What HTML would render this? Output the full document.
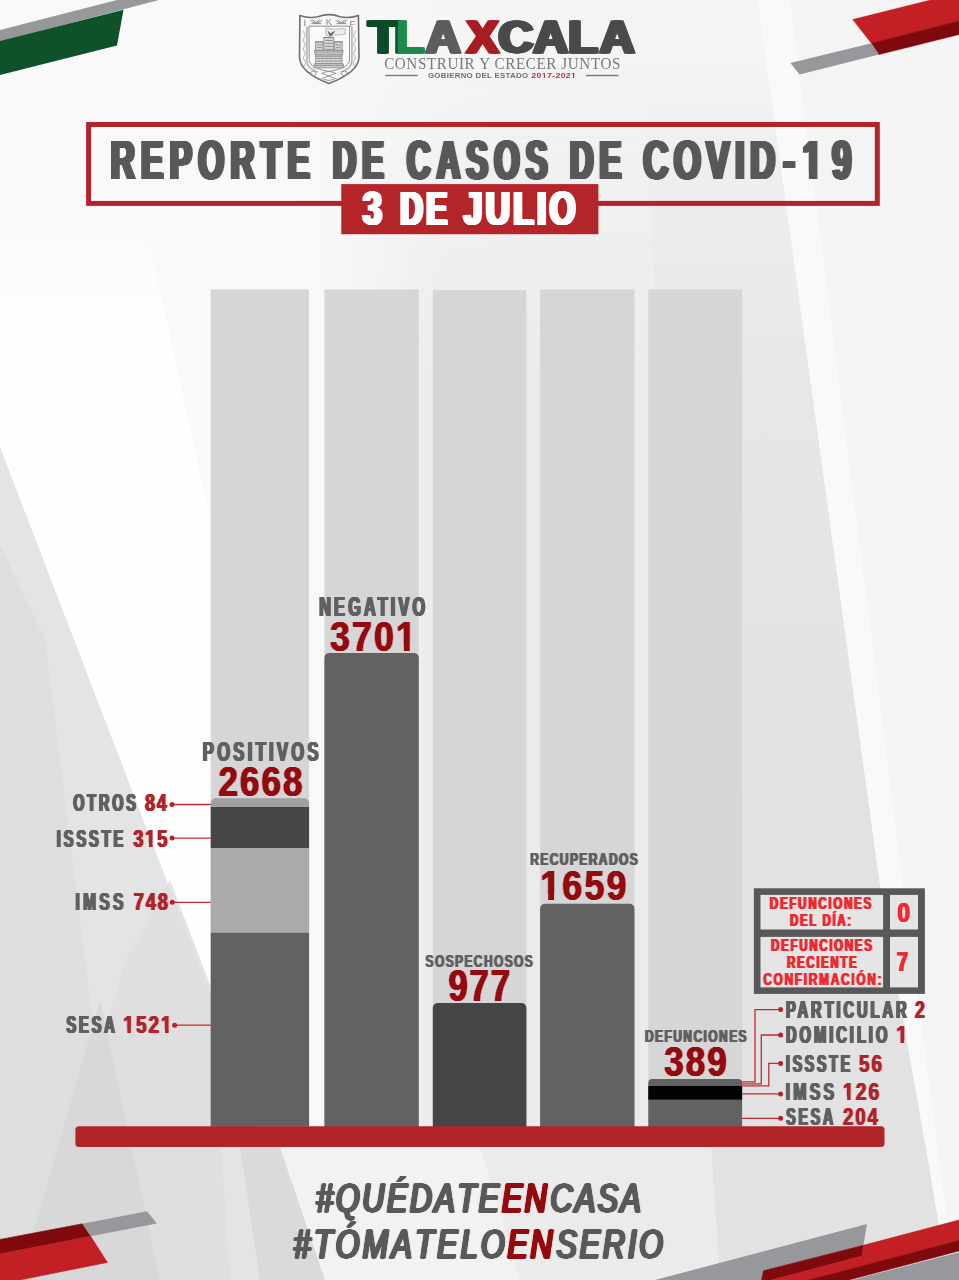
<!DOCTYPE html>
<html lang="es"><head><meta charset="utf-8"><title>Reporte de casos de COVID-19 - 3 de julio</title>
<style>html,body{margin:0;padding:0;background:#f4f4f4;}body{width:959px;height:1280px;overflow:hidden;}svg{display:block;}</style>
</head><body>
<svg width="959" height="1280" viewBox="0 0 959 1280" font-family="Liberation Sans, sans-serif" font-weight="700">
<defs>
<filter id="hb5_606062" x="-40%" y="-40%" width="180%" height="180%" color-interpolation-filters="sRGB"><feConvolveMatrix in="SourceAlpha" order="3 1" kernelMatrix="0.5 1 0.5" divisor="1" edgeMode="none" preserveAlpha="false" result="a"/><feFlood flood-color="#606062"/><feComposite operator="in" in2="a"/></filter>
<filter id="hb5_950a0e" x="-40%" y="-40%" width="180%" height="180%" color-interpolation-filters="sRGB"><feConvolveMatrix in="SourceAlpha" order="3 1" kernelMatrix="0.5 1 0.5" divisor="1" edgeMode="none" preserveAlpha="false" result="a"/><feFlood flood-color="#950a0e"/><feComposite operator="in" in2="a"/></filter>
<filter id="hb5_b1232a" x="-40%" y="-40%" width="180%" height="180%" color-interpolation-filters="sRGB"><feConvolveMatrix in="SourceAlpha" order="3 1" kernelMatrix="0.5 1 0.5" divisor="1" edgeMode="none" preserveAlpha="false" result="a"/><feFlood flood-color="#b1232a"/><feComposite operator="in" in2="a"/></filter>
<filter id="hb5_ec2a2f" x="-40%" y="-40%" width="180%" height="180%" color-interpolation-filters="sRGB"><feConvolveMatrix in="SourceAlpha" order="3 1" kernelMatrix="0.5 1 0.5" divisor="1" edgeMode="none" preserveAlpha="false" result="a"/><feFlood flood-color="#ec2a2f"/><feComposite operator="in" in2="a"/></filter>
<filter id="hb6_606062" x="-40%" y="-40%" width="180%" height="180%" color-interpolation-filters="sRGB"><feConvolveMatrix in="SourceAlpha" order="3 1" kernelMatrix="0.6 1 0.6" divisor="1" edgeMode="none" preserveAlpha="false" result="a"/><feFlood flood-color="#606062"/><feComposite operator="in" in2="a"/></filter>
<filter id="hb6_950a0e" x="-40%" y="-40%" width="180%" height="180%" color-interpolation-filters="sRGB"><feConvolveMatrix in="SourceAlpha" order="3 1" kernelMatrix="0.6 1 0.6" divisor="1" edgeMode="none" preserveAlpha="false" result="a"/><feFlood flood-color="#950a0e"/><feComposite operator="in" in2="a"/></filter>
<filter id="hb6_b1232a" x="-40%" y="-40%" width="180%" height="180%" color-interpolation-filters="sRGB"><feConvolveMatrix in="SourceAlpha" order="3 1" kernelMatrix="0.6 1 0.6" divisor="1" edgeMode="none" preserveAlpha="false" result="a"/><feFlood flood-color="#b1232a"/><feComposite operator="in" in2="a"/></filter>
<filter id="hb6_ec2a2f" x="-40%" y="-40%" width="180%" height="180%" color-interpolation-filters="sRGB"><feConvolveMatrix in="SourceAlpha" order="3 1" kernelMatrix="0.6 1 0.6" divisor="1" edgeMode="none" preserveAlpha="false" result="a"/><feFlood flood-color="#ec2a2f"/><feComposite operator="in" in2="a"/></filter>
<filter id="hb7_950a0e" x="-40%" y="-40%" width="180%" height="180%" color-interpolation-filters="sRGB"><feConvolveMatrix in="SourceAlpha" order="3 1" kernelMatrix="0.7 1 0.7" divisor="1" edgeMode="none" preserveAlpha="false" result="a"/><feFlood flood-color="#950a0e"/><feComposite operator="in" in2="a"/></filter>
<filter id="hb7_ec2a2f" x="-40%" y="-40%" width="180%" height="180%" color-interpolation-filters="sRGB"><feConvolveMatrix in="SourceAlpha" order="3 1" kernelMatrix="0.7 1 0.7" divisor="1" edgeMode="none" preserveAlpha="false" result="a"/><feFlood flood-color="#ec2a2f"/><feComposite operator="in" in2="a"/></filter>
<filter id="hb8_606062" x="-40%" y="-40%" width="180%" height="180%" color-interpolation-filters="sRGB"><feConvolveMatrix in="SourceAlpha" order="3 1" kernelMatrix="0.8 1 0.8" divisor="1" edgeMode="none" preserveAlpha="false" result="a"/><feFlood flood-color="#606062"/><feComposite operator="in" in2="a"/></filter>
<filter id="hb8_ec2a2f" x="-40%" y="-40%" width="180%" height="180%" color-interpolation-filters="sRGB"><feConvolveMatrix in="SourceAlpha" order="3 1" kernelMatrix="0.8 1 0.8" divisor="1" edgeMode="none" preserveAlpha="false" result="a"/><feFlood flood-color="#ec2a2f"/><feComposite operator="in" in2="a"/></filter>
<filter id="hb9_606062" x="-40%" y="-40%" width="180%" height="180%" color-interpolation-filters="sRGB"><feConvolveMatrix in="SourceAlpha" order="3 1" kernelMatrix="0.9 1 0.9" divisor="1" edgeMode="none" preserveAlpha="false" result="a"/><feFlood flood-color="#606062"/><feComposite operator="in" in2="a"/></filter>
<filter id="hb10_606062" x="-40%" y="-40%" width="180%" height="180%" color-interpolation-filters="sRGB"><feConvolveMatrix in="SourceAlpha" order="3 1" kernelMatrix="1 1 1" divisor="1" edgeMode="none" preserveAlpha="false" result="a"/><feFlood flood-color="#606062"/><feComposite operator="in" in2="a"/></filter>
<filter id="hb18_ffffff" x="-40%" y="-40%" width="180%" height="180%" color-interpolation-filters="sRGB"><feConvolveMatrix in="SourceAlpha" order="5 1" kernelMatrix="0.8 1 1 1 0.8" divisor="1" edgeMode="none" preserveAlpha="false" result="a"/><feFlood flood-color="#ffffff"/><feComposite operator="in" in2="a"/></filter>
<filter id="hb19_58585a" x="-40%" y="-40%" width="180%" height="180%" color-interpolation-filters="sRGB"><feConvolveMatrix in="SourceAlpha" order="5 1" kernelMatrix="0.9 1 1 1 0.9" divisor="1" edgeMode="none" preserveAlpha="false" result="a"/><feFlood flood-color="#58585a"/><feComposite operator="in" in2="a"/></filter>
<filter id="hb19_ffffff" x="-40%" y="-40%" width="180%" height="180%" color-interpolation-filters="sRGB"><feConvolveMatrix in="SourceAlpha" order="5 1" kernelMatrix="0.9 1 1 1 0.9" divisor="1" edgeMode="none" preserveAlpha="false" result="a"/><feFlood flood-color="#ffffff"/><feComposite operator="in" in2="a"/></filter>
<filter id="hb20_58585a" x="-40%" y="-40%" width="180%" height="180%" color-interpolation-filters="sRGB"><feConvolveMatrix in="SourceAlpha" order="5 1" kernelMatrix="1 1 1 1 1" divisor="1" edgeMode="none" preserveAlpha="false" result="a"/><feFlood flood-color="#58585a"/><feComposite operator="in" in2="a"/></filter>
<filter id="hb20_ffffff" x="-40%" y="-40%" width="180%" height="180%" color-interpolation-filters="sRGB"><feConvolveMatrix in="SourceAlpha" order="5 1" kernelMatrix="1 1 1 1 1" divisor="1" edgeMode="none" preserveAlpha="false" result="a"/><feFlood flood-color="#ffffff"/><feComposite operator="in" in2="a"/></filter>
<filter id="hb21_58585a" x="-40%" y="-40%" width="180%" height="180%" color-interpolation-filters="sRGB"><feConvolveMatrix in="SourceAlpha" order="7 1" kernelMatrix="0.1 1 1 1 1 1 0.1" divisor="1" edgeMode="none" preserveAlpha="false" result="a"/><feFlood flood-color="#58585a"/><feComposite operator="in" in2="a"/></filter>
<clipPath id="cp_ti5" clipPathUnits="userSpaceOnUse"><path clip-rule="evenodd" d="M-10 -10H970V1290H-10ZM801.88 172.28H808.84V180.40H801.88ZM817.45 172.28H823.97V180.40H817.45Z"/></clipPath>
<clipPath id="cp_negn" clipPathUnits="userSpaceOnUse"><path clip-rule="evenodd" d="M-10 -10H970V1290H-10ZM396.78 645.61H403.87V652.50H396.78ZM409.78 645.61H416.43V652.50H409.78Z"/></clipPath>
<clipPath id="cp_recn" clipPathUnits="userSpaceOnUse"><path clip-rule="evenodd" d="M-10 -10H970V1290H-10ZM541.03 894.31H548.14V901.20H541.03ZM554.06 894.31H560.72V901.20H554.06Z"/></clipPath>
<clipPath id="cp_l2n" clipPathUnits="userSpaceOnUse"><path clip-rule="evenodd" d="M-10 -10H970V1290H-10ZM144.77 843.05H148.90V848.00H144.77ZM152.61 843.05H156.51V848.00H152.61Z"/></clipPath>
<clipPath id="cp_l4n" clipPathUnits="userSpaceOnUse"><path clip-rule="evenodd" d="M-10 -10H970V1290H-10ZM123.02 1029.31H127.29V1034.30H123.02ZM130.92 1029.31H134.94V1034.30H130.92ZM160.76 1029.31H165.03V1034.30H160.76ZM168.67 1029.31H172.70V1034.30H168.67Z"/></clipPath>
<clipPath id="cp_r2n" clipPathUnits="userSpaceOnUse"><path clip-rule="evenodd" d="M-10 -10H970V1290H-10ZM895.96 1039.72H900.40V1044.70H895.96ZM904.16 1039.72H908.34V1044.70H904.16Z"/></clipPath>
<clipPath id="cp_r4n" clipPathUnits="userSpaceOnUse"><path clip-rule="evenodd" d="M-10 -10H970V1290H-10ZM842.80 1096.45H847.09V1101.40H842.80ZM850.74 1096.45H854.79V1101.40H850.74Z"/></clipPath>
<clipPath id="cp_lg4" clipPathUnits="userSpaceOnUse"><path clip-rule="evenodd" d="M-10 -10H970V1290H-10ZM541.32 76.28H543.82V79.60H541.32ZM545.02 76.28H547.40V79.60H545.02ZM570.61 76.28H573.11V79.60H570.61ZM574.31 76.28H576.69V79.60H574.31Z"/></clipPath>
  <filter id="hf_h1" filterUnits="userSpaceOnUse" x="337.8" y="1167.9" width="621.6" height="59.4" color-interpolation-filters="sRGB"><feConvolveMatrix in="SourceGraphic" order="5 1" kernelMatrix="0.1 1 1 1 0.1" divisor="3.200" edgeMode="none" preserveAlpha="false" result="b"/><feComponentTransfer in="b"><feFuncA type="linear" slope="3.200" intercept="0"/></feComponentTransfer></filter><linearGradient id="hg_h1" gradientUnits="userSpaceOnUse" x1="0" y1="0" x2="1000" y2="212.56"><stop offset="0" stop-color="#59595b"/><stop offset="0.89447" stop-color="#59595b"/><stop offset="0.89447" stop-color="#930a0e"/><stop offset="0.95650" stop-color="#930a0e"/><stop offset="0.95650" stop-color="#59595b"/><stop offset="1" stop-color="#59595b"/></linearGradient>
  <filter id="hf_h2" filterUnits="userSpaceOnUse" x="337.8" y="1214.4" width="621.6" height="59.4" color-interpolation-filters="sRGB"><feConvolveMatrix in="SourceGraphic" order="5 1" kernelMatrix="0.1 1 1 1 0.1" divisor="3.200" edgeMode="none" preserveAlpha="false" result="b"/><feComponentTransfer in="b"><feFuncA type="linear" slope="3.200" intercept="0"/></feComponentTransfer></filter><linearGradient id="hg_h2" gradientUnits="userSpaceOnUse" x1="0" y1="0" x2="1000" y2="212.56"><stop offset="0" stop-color="#59595b"/><stop offset="0.91130" stop-color="#59595b"/><stop offset="0.91130" stop-color="#930a0e"/><stop offset="0.97397" stop-color="#930a0e"/><stop offset="0.97397" stop-color="#59595b"/><stop offset="1" stop-color="#59595b"/></linearGradient>
  <filter id="lgb" filterUnits="userSpaceOnUse" x="300" y="8" width="320" height="60"><feOffset in="SourceGraphic" dx="-2" result="a"/><feOffset in="SourceGraphic" dx="-1" result="b"/><feOffset in="SourceGraphic" dx="1" result="c"/><feOffset in="SourceGraphic" dx="2" result="d"/><feMerge><feMergeNode in="a"/><feMergeNode in="b"/><feMergeNode in="c"/><feMergeNode in="d"/><feMergeNode in="SourceGraphic"/></feMerge></filter><linearGradient id="lgG" gradientUnits="userSpaceOnUse" x1="0" y1="0" x2="660.38" y2="0"><stop offset="0.00000" stop-color="#0c4a27"/><stop offset="0.56788" stop-color="#0c4a27"/><stop offset="0.56788" stop-color="#1f8a4b"/><stop offset="0.60690" stop-color="#1f8a4b"/><stop offset="0.60690" stop-color="#5b5b5d"/><stop offset="0.66171" stop-color="#5b5b5d"/><stop offset="0.66171" stop-color="#a81e23"/><stop offset="0.71305" stop-color="#a81e23"/><stop offset="0.71305" stop-color="#4a4a4c"/><stop offset="1.00000" stop-color="#4a4a4c"/></linearGradient>
  <linearGradient id="bgL" gradientUnits="userSpaceOnUse" x1="280" y1="0" x2="520" y2="0"><stop offset="0" stop-color="#f9f9f9" stop-opacity="1"/><stop offset="1" stop-color="#f9f9f9" stop-opacity="0"/></linearGradient>
  <linearGradient id="mCg" gradientUnits="userSpaceOnUse" x1="340" y1="0" x2="440" y2="0"><stop offset="0" stop-color="#000"/><stop offset="1" stop-color="#fff"/></linearGradient>
  <mask id="mC" maskUnits="userSpaceOnUse" x="0" y="0" width="959" height="1280"><rect x="0" y="0" width="959" height="1280" fill="url(#mCg)"/></mask>
  <linearGradient id="bgC" gradientUnits="userSpaceOnUse" x1="0" y1="60" x2="0" y2="380"><stop offset="0" stop-color="#ebebeb" stop-opacity="0"/><stop offset="1" stop-color="#ebebeb" stop-opacity="1"/></linearGradient>
  <linearGradient id="bgC2" gradientUnits="userSpaceOnUse" x1="0" y1="60" x2="0" y2="800"><stop offset="0" stop-color="#e1e1e1" stop-opacity="0"/><stop offset="1" stop-color="#e2e2e2" stop-opacity="1"/></linearGradient>
  <linearGradient id="bgW" gradientUnits="userSpaceOnUse" x1="0" y1="200" x2="0" y2="330"><stop offset="0" stop-color="#fefefe" stop-opacity="0"/><stop offset="1" stop-color="#fefefe" stop-opacity="1"/></linearGradient>

  <linearGradient id="gA" x1="0" y1="0" x2="1" y2="0"><stop offset="0" stop-color="#6a6a6c"/><stop offset="1" stop-color="#4a4a4c"/></linearGradient>
</defs>
<!-- background -->
<g id="bg">
  <rect width="959" height="1280" fill="#f4f4f4"/>
  <!-- upper-left light area -->
  <rect x="0" y="0" width="520" height="1280" fill="url(#bgL)"/>
  <!-- centre-right grey wedge -->
  <polygon points="330,60 766,60 791,240 882,900 928,1160 948,1280 330,1280" fill="url(#bgC)" mask="url(#mC)"/>
  <polygon points="640,60 766,60 791,240 882,900 928,1160 948,1280 720,1280" fill="url(#bgC2)"/>
  <!-- far right light -->
  <polygon points="758,0 790,0 905,900 955,1280 948,1280 928,1160 882,900 791,240 766,60" fill="#fafafa" opacity="0.8"/>
  <!-- left white band -->
  <polygon points="0,200 140,200 250,700 309,900 309,1147 345,1147 400,1280 320,1280 0,447" fill="url(#bgW)"/>
  <!-- lower-left grey -->
  <polygon points="0,447 320,1280 0,1280" fill="#e4e4e4"/>
  <polygon points="0,545 45,640 125,1280 0,1280" fill="#dedede"/>
  <polygon points="170,880 126,960 30,1280 230,1280 210,985" fill="#dddddd" opacity="0.8"/>
  <polygon points="100,1000 160,1280 20,1280" fill="#d6d6d6" opacity="0.8"/>
  <!-- bottom band -->
  <polygon points="280,1147 480,1147 520,1280 325,1280" fill="#f2f2f2"/>
  <polygon points="240,1147 280,1147 325,1280 260,1280" fill="#dadada"/>
</g>
<!-- corner ribbons -->
<g id="ribbons">
  <polygon points="0,30 117,0 159,0 0,41.5" fill="#97989b"/>
  <polygon points="0,41 123.5,9.7 117,45.4 0,75" fill="#0f5229"/>
  <polygon points="852.8,19.6 931,0 959,0 959,20.9 871.4,43.3" fill="#c32026" stroke="#c32026" stroke-width="0.6" stroke-linejoin="round"/>
  <polygon points="871.4,43.3 959,20.9 959,34.5 878.9,54.5" fill="#7f0a0e" stroke="#7f0a0e" stroke-width="0.6" stroke-linejoin="round"/>
  <polygon points="790.3,63 871.4,43.3 878.9,54.5 799.6,74.6" fill="#97989b"/>
  <polygon points="0,1239.4 82.4,1223.8 90.7,1236.3 0,1254" fill="#7f0a0e" stroke="#7f0a0e" stroke-width="0.6" stroke-linejoin="round"/>
  <polygon points="0,1254 90.7,1236.3 107.4,1262.4 19.8,1280 0,1280" fill="#c32026" stroke="#c32026" stroke-width="0.6" stroke-linejoin="round"/>
  <polygon points="82.4,1223.8 147,1211.3 156.8,1223.4 90.7,1236.3" fill="#97989b"/>
  <polygon points="655,1280 867,1224 863.4,1245.3 763.5,1270.7 761.6,1280" fill="#97989b"/>
  <polygon points="763.5,1270.7 863.4,1245.3 862.2,1256.1 771.5,1280 761.6,1280" fill="#7f0a0e" stroke="#7f0a0e" stroke-width="0.6" stroke-linejoin="round"/>
  <polygon points="863.4,1245.3 959,1220 959,1240.5 809,1280 771.5,1280 862.2,1256.1" fill="#c32026" stroke="#c32026" stroke-width="0.6" stroke-linejoin="round"/>
  <polygon points="809,1280 959,1240.5 959,1250.9 848.7,1280" fill="#7f0a0e" stroke="#7f0a0e" stroke-width="0.6" stroke-linejoin="round"/>
  <polygon points="852,1280 959,1252.3 959,1280" fill="#97989b"/>
</g>
<!-- title -->
<g id="title">
  <rect x="88.6" y="124.5" width="788.7" height="78.9" fill="none" stroke="#b4232a" stroke-width="5"/>
  <rect x="341.3" y="184.1" width="257.1" height="50.1" fill="#b4252a"/>
</g>
<!-- chart -->
<g id="chart">
  <g fill="#d6d6d6">
    <rect x="210.7" y="289.5" width="98.4" height="837"/>
    <rect x="324.4" y="289.5" width="94.4" height="837"/>
    <rect x="432.8" y="290" width="93.6" height="836.5"/>
    <rect x="540.1" y="289.5" width="94.4" height="837"/>
    <rect x="648.3" y="289.5" width="93.8" height="837"/>
  </g>
  <!-- positivos -->
  <path d="M210.7 808 V803.2 a5 5 0 0 1 5 -5 H304.1 a5 5 0 0 1 5 5 V808 Z" fill="#a0a0a0"/>
  <rect x="210.7" y="807" width="98.4" height="41.1" fill="#464646"/>
  <rect x="210.7" y="848.1" width="98.4" height="84.6" fill="#aaaaaa"/>
  <rect x="210.7" y="932.7" width="98.4" height="194" fill="#626262"/>
  <!-- negativo -->
  <path d="M324.4 1127 V657.9 a5 5 0 0 1 5 -5 H413.8 a5 5 0 0 1 5 5 V1127 Z" fill="#626262"/>
  <!-- sospechosos -->
  <path d="M432.8 1127 V1008 a5 5 0 0 1 5 -5 H521.4 a5 5 0 0 1 5 5 V1127 Z" fill="#454545"/>
  <!-- recuperados -->
  <path d="M540.1 1127 V908.7 a5 5 0 0 1 5 -5 H629.5 a5 5 0 0 1 5 5 V1127 Z" fill="#626262"/>
  <!-- defunciones -->
  <path d="M648.3 1127 V1083 a4 4 0 0 1 4 -4 H738.1 a4 4 0 0 1 4 4 V1127 Z" fill="#626262"/>
  <rect x="648.3" y="1086" width="93.8" height="13.6" fill="#030303"/>
  <!-- base -->
  <rect x="75.4" y="1126.2" width="809.1" height="20.9" rx="3.5" fill="#b12428"/>
  <!-- connectors left -->
  <g stroke="#c12a31" stroke-width="1.3" fill="none">
    <path d="M172 804.5 H210.7"/>
    <path d="M172 838.1 H210.7"/>
    <path d="M172.3 902.3 H210.7"/>
    <path d="M174.6 1025.2 H210.7"/>
    <path d="M742.1 1081.8 H755 V1009.6 H780.6"/>
    <path d="M742.1 1083.8 H761.3 V1035 H780.6"/>
    <path d="M742.1 1085.9 H768.8 V1063.4 H780.6"/>
    <path d="M742.1 1093.9 H780.6"/>
    <path d="M742.1 1118.3 H780.6"/>
  </g>
  <g fill="#b3242b">
    <circle cx="172" cy="804.5" r="2.5"/>
    <circle cx="172" cy="838.1" r="2.5"/>
    <circle cx="172.3" cy="902.3" r="2.5"/>
    <circle cx="174.6" cy="1025.2" r="2.5"/>
    <circle cx="780.6" cy="1009.6" r="2.5"/>
    <circle cx="780.6" cy="1035" r="2.5"/>
    <circle cx="780.6" cy="1063.4" r="2.5"/>
    <circle cx="780.6" cy="1093.9" r="2.5"/>
    <circle cx="780.6" cy="1118.3" r="2.5"/>
  </g>
  <!-- table -->
  <rect x="753.9" y="888.3" width="171" height="105.6" fill="#58585a"/>
  <g fill="#e5e5e5">
    <rect x="760.5" y="894.9" width="122.6" height="34.6"/>
    <rect x="890" y="894.9" width="28" height="34.6"/>
    <rect x="760.5" y="936.9" width="122.6" height="50.5"/>
    <rect x="890" y="936.9" width="28" height="50.5"/>
  </g>
</g>
<!-- logo -->
<g id="logo">
  <!--SHIELD_S--><g id="shield" fill="none" stroke-linejoin="round" stroke-linecap="round">
    <path d="M299.9 15.6 Q309 18.8 318 16.8 Q324 14.4 328.9 14.6 Q334 14.4 340 16.8 Q349 18.8 358.4 15.4 L359 57.5 C358.6 68 346 77 328.9 83.6 C312 77 299.9 68 299.5 57.5 Z" fill="#f7f7f7" stroke="#707072" stroke-width="1.6"/>
    <path d="M309.3 26.2 H349.5 V60 C349.3 66 340 69.6 328.9 71.4 C318 69.6 309.5 66 309.3 60 Z" fill="#fafafa" stroke="#87878a" stroke-width="0.9"/>
    <path d="M306.9 27 V61 C307.4 67 312 70 317 71.6" stroke="#b0b0b2" stroke-width="1.5"/>
    <path d="M351.9 27 V61 C351.4 67 346.8 70 341.8 71.6" stroke="#b0b0b2" stroke-width="1.5"/>
    <g stroke="#858587" stroke-width="0.9">
      
      <path d="M310.6 20.4 Q316.2 25.8 322 20.4 M311.8 23.6 H320.8 M312.8 20 L316.2 22.6 L319.8 20"/>
      
      <path d="M335.8 20.4 Q341.4 25.8 347.2 20.4 M337 23.6 H346 M338 20 L341.4 22.6 L345 20"/>
      
    </g>
    <g stroke="#a5a5a7" stroke-width="0.8">
      <path d="M303.4 31 L305.4 35.5 L303 40 L305.4 44.5 L303 49 L305.4 53.5 L303.2 58 L305.8 62.5 L304.6 66"/>
      <path d="M355.4 31 L353.4 35.5 L355.8 40 L353.4 44.5 L355.8 49 L353.4 53.5 L355.6 58 L353 62.5 L354.2 66"/>
    </g>
    <g stroke="#8c8c8e" stroke-width="0.9">
      <path d="M310.2 72.4 Q312.8 69.8 315.8 72.2 Q316.8 75.6 313.2 76.2 Q310 75.6 310.2 72.4 Z"/>
      <path d="M341.6 72 Q344.4 69.6 347.2 72 Q347.6 75.2 344.2 75.8 L341.8 74.6 Z"/>
      <path d="M321.4 73.2 L336 78.8 M336 73.2 L321.4 78.8 M323.2 72.4 Q328.8 70.2 334.4 72.4 M324 79.6 Q328.8 81.4 333.6 79.6"/>
    </g>
    <path d="M326 28 Q333 30.4 340 28.8 Q343.6 28 346 29.2 Q343.4 31.2 345.6 34 Q340 35.6 334.2 34.8 L330 36.8 L326.4 35.2 Z" fill="#ececed" stroke="#a0a0a2" stroke-width="0.7"/>
    <path d="M327.2 30 Q329.4 32.8 331 33.4 Q333 31 335.4 31.2 Q333 33.6 331.6 35.8 L329.2 35.6 Q328.6 33 327.2 30 Z" fill="#5e5e60" stroke="none"/>
    <g fill="#d6d6d8" stroke="#808082" stroke-width="0.8">
      <rect x="324.2" y="37.6" width="9.6" height="11.8"/>
      <rect x="315.8" y="42" width="7.2" height="8.4"/>
      <rect x="335" y="42" width="7.2" height="8.4"/>
      <path d="M314.8 50.4 H343.2 L342 56.2 H316 Z"/>
      <rect x="316" y="56.2" width="26" height="7.6"/>
      <path d="M314.8 63.8 H343.2 L343.8 67.8 H314.2 Z"/>
    </g>
    <g stroke="#77777a" stroke-width="0.8">
      <path d="M324 37.4 H334 M325.6 40.6 H332.4 M325.6 43.4 H332.4 M325.6 46.4 H332.4" stroke-dasharray="1.6 1"/>
      <path d="M315.6 41.8 H323.2 M334.8 41.8 H342.4 M317.2 45 H321.6 M336.4 45 H340.8 M317.2 47.6 H321.6 M336.4 47.6 H340.8" stroke-dasharray="1.4 1"/>
      <path d="M315.4 52 H342.6 M316.4 54.2 H341.6" stroke-dasharray="2.2 1.2"/>
      <path d="M317 58.4 H341 M317 61 H341 M315.4 65.6 H342.6" stroke-dasharray="3 1.2"/>
    </g>
  </g><g font-family="Liberation Sans, sans-serif" font-weight="400" font-size="9.4" fill="#858587" stroke="none" text-anchor="middle"><text x="304.9" y="26.2">I</text><text x="329" y="25">K</text><text x="352.4" y="26.6">F</text></g><!--SHIELD_E-->
  <!--TLAX_S--><text transform="scale(1.0600,1)" x="347.49 372.23 401.77 440.03 470.18 503.09 536.05 565.78" y="53.40" font-family="Liberation Sans, sans-serif" font-weight="700" font-size="45.49" fill="url(#lgG)" stroke="url(#lgG)" stroke-width="0.8" stroke-linejoin="miter" filter="url(#lgb)">TLAXCALA</text><!--TLAX_E-->
  <rect x="385.2" y="74.8" width="32.6" height="1.4" fill="#77777a"/>
  <rect x="586" y="74.8" width="32.5" height="1.4" fill="#77777a"/>
</g>
<g id="texts">
<text x="110.65" y="178.90" font-size="55.09" textLength="205.56" lengthAdjust="spacingAndGlyphs" fill="#58585a" letter-spacing="10.47" filter="url(#hb20_58585a)">REPORTE</text>
<text x="332.98" y="178.90" font-size="55.09" textLength="56.66" lengthAdjust="spacingAndGlyphs" fill="#58585a" letter-spacing="10.47" filter="url(#hb21_58585a)">DE</text>
<text x="406.98" y="178.90" font-size="55.09" textLength="146.59" lengthAdjust="spacingAndGlyphs" fill="#58585a" letter-spacing="10.47" filter="url(#hb21_58585a)">CASOS</text>
<text x="569.93" y="178.90" font-size="55.09" textLength="57.43" lengthAdjust="spacingAndGlyphs" fill="#58585a" letter-spacing="10.47" filter="url(#hb21_58585a)">DE</text>
<text x="643.23" y="178.90" font-size="55.09" textLength="214.79" lengthAdjust="spacingAndGlyphs" fill="#58585a" letter-spacing="10.47" dx="0 -2.2 -2.2 -2.2 -2.2 2.2 1.6 5" filter="url(#hb19_58585a)" clip-path="url(#cp_ti5)">COVID-19</text>
<text x="362.63" y="224.50" font-size="48.84" textLength="19.26" lengthAdjust="spacingAndGlyphs" fill="#ffffff" filter="url(#hb18_ffffff)">3</text>
<text x="400.35" y="224.50" font-size="48.84" textLength="49.95" lengthAdjust="spacingAndGlyphs" fill="#ffffff" letter-spacing="4.88" filter="url(#hb20_ffffff)">DE</text>
<text x="463.79" y="224.50" font-size="48.84" textLength="115.17" lengthAdjust="spacingAndGlyphs" fill="#ffffff" letter-spacing="4.88" filter="url(#hb19_ffffff)">JULIO</text>
<text x="202.80" y="761.40" font-size="27.47" textLength="119.12" lengthAdjust="spacingAndGlyphs" fill="#606062" letter-spacing="5.49" filter="url(#hb9_606062)">POSITIVOS</text>
<text x="218.46" y="795.70" font-size="42.88" textLength="86.10" lengthAdjust="spacingAndGlyphs" fill="#950a0e" letter-spacing="2.57" filter="url(#hb6_950a0e)">2668</text>
<text x="319.16" y="616.40" font-size="27.47" textLength="109.30" lengthAdjust="spacingAndGlyphs" fill="#606062" letter-spacing="5.49" filter="url(#hb10_606062)">NEGATIVO</text>
<text x="329.92" y="651.00" font-size="43.02" textLength="88.15" lengthAdjust="spacingAndGlyphs" fill="#950a0e" letter-spacing="2.58" filter="url(#hb5_950a0e)" clip-path="url(#cp_negn)">3701</text>
<text x="425.58" y="966.70" font-size="16.72" textLength="108.62" lengthAdjust="spacingAndGlyphs" fill="#606062" letter-spacing="1.84" filter="url(#hb5_606062)">SOSPECHOSOS</text>
<text x="448.40" y="1001.30" font-size="43.46" textLength="63.60" lengthAdjust="spacingAndGlyphs" fill="#950a0e" letter-spacing="2.61" filter="url(#hb7_950a0e)">977</text>
<text x="530.22" y="865.00" font-size="17.15" textLength="108.97" lengthAdjust="spacingAndGlyphs" fill="#606062" letter-spacing="1.89" filter="url(#hb6_606062)">RECUPERADOS</text>
<text x="540.27" y="899.70" font-size="43.02" textLength="88.34" lengthAdjust="spacingAndGlyphs" fill="#950a0e" letter-spacing="2.58" filter="url(#hb5_950a0e)" clip-path="url(#cp_recn)">1659</text>
<text x="644.94" y="1042.00" font-size="17.15" textLength="103.09" lengthAdjust="spacingAndGlyphs" fill="#606062" letter-spacing="1.89" filter="url(#hb6_606062)">DEFUNCIONES</text>
<text x="664.36" y="1076.00" font-size="42.73" textLength="64.51" lengthAdjust="spacingAndGlyphs" fill="#950a0e" letter-spacing="2.56" filter="url(#hb6_950a0e)">389</text>
<text x="73.19" y="811.00" font-size="23.98" textLength="65.62" lengthAdjust="spacingAndGlyphs" fill="#606062" letter-spacing="4.80" filter="url(#hb9_606062)">OTROS</text>
<text x="145.02" y="811.00" font-size="23.98" textLength="23.71" lengthAdjust="spacingAndGlyphs" fill="#b1232a" letter-spacing="2.40" filter="url(#hb6_b1232a)">84</text>
<text x="56.76" y="846.50" font-size="23.98" textLength="69.54" lengthAdjust="spacingAndGlyphs" fill="#606062" letter-spacing="4.80" filter="url(#hb9_606062)">ISSSTE</text>
<text x="133.21" y="846.50" font-size="23.98" textLength="36.06" lengthAdjust="spacingAndGlyphs" fill="#b1232a" letter-spacing="2.40" filter="url(#hb6_b1232a)" clip-path="url(#cp_l2n)">315</text>
<text x="75.59" y="909.80" font-size="23.98" textLength="51.03" lengthAdjust="spacingAndGlyphs" fill="#606062" letter-spacing="4.80" filter="url(#hb8_606062)">IMSS</text>
<text x="133.70" y="909.80" font-size="23.98" textLength="36.00" lengthAdjust="spacingAndGlyphs" fill="#b1232a" letter-spacing="2.40" filter="url(#hb6_b1232a)">748</text>
<text x="66.54" y="1032.80" font-size="24.42" textLength="51.07" lengthAdjust="spacingAndGlyphs" fill="#606062" letter-spacing="4.88" filter="url(#hb10_606062)">SESA</text>
<text x="123.31" y="1032.80" font-size="24.42" textLength="50.34" lengthAdjust="spacingAndGlyphs" fill="#b1232a" letter-spacing="2.44" filter="url(#hb5_b1232a)" clip-path="url(#cp_l4n)">1521</text>
<text x="785.96" y="1018.20" font-size="23.40" textLength="123.56" lengthAdjust="spacingAndGlyphs" fill="#606062" letter-spacing="4.68" filter="url(#hb9_606062)">PARTICULAR</text>
<text x="915.12" y="1018.20" font-size="23.40" textLength="11.57" lengthAdjust="spacingAndGlyphs" fill="#b1232a" letter-spacing="2.34" filter="url(#hb6_b1232a)">2</text>
<text x="785.97" y="1043.20" font-size="24.27" textLength="104.33" lengthAdjust="spacingAndGlyphs" fill="#606062" letter-spacing="4.85" filter="url(#hb9_606062)">DOMICILIO</text>
<text x="896.19" y="1043.20" font-size="24.27" textLength="13.23" lengthAdjust="spacingAndGlyphs" fill="#b1232a" letter-spacing="2.43" filter="url(#hb5_b1232a)" clip-path="url(#cp_r2n)">1</text>
<text x="785.91" y="1072.00" font-size="23.69" textLength="66.97" lengthAdjust="spacingAndGlyphs" fill="#606062" letter-spacing="4.74" filter="url(#hb9_606062)">ISSSTE</text>
<text x="859.05" y="1072.00" font-size="23.69" textLength="24.86" lengthAdjust="spacingAndGlyphs" fill="#b1232a" letter-spacing="2.37" filter="url(#hb5_b1232a)">56</text>
<text x="785.70" y="1099.90" font-size="23.98" textLength="51.59" lengthAdjust="spacingAndGlyphs" fill="#606062" letter-spacing="4.80" filter="url(#hb8_606062)">IMSS</text>
<text x="843.08" y="1099.90" font-size="23.98" textLength="38.05" lengthAdjust="spacingAndGlyphs" fill="#b1232a" letter-spacing="2.40" filter="url(#hb5_b1232a)" clip-path="url(#cp_r4n)">126</text>
<text x="786.18" y="1125.10" font-size="23.55" textLength="49.73" lengthAdjust="spacingAndGlyphs" fill="#606062" letter-spacing="4.71" filter="url(#hb9_606062)">SESA</text>
<text x="842.98" y="1125.10" font-size="23.55" textLength="36.77" lengthAdjust="spacingAndGlyphs" fill="#b1232a" letter-spacing="2.35" filter="url(#hb5_b1232a)">204</text>
<text x="769.84" y="909.30" font-size="17.30" textLength="103.03" lengthAdjust="spacingAndGlyphs" fill="#ec2a2f" letter-spacing="2.42" filter="url(#hb6_ec2a2f)">DEFUNCIONES</text>
<text x="789.92" y="926.00" font-size="17.30" textLength="62.87" lengthAdjust="spacingAndGlyphs" fill="#ec2a2f" letter-spacing="2.42" filter="url(#hb6_ec2a2f)">DEL DÍA:</text>
<text x="897.52" y="922.20" font-size="28.20" textLength="12.56" lengthAdjust="spacingAndGlyphs" fill="#ec2a2f" filter="url(#hb7_ec2a2f)">0</text>
<text x="771.11" y="951.30" font-size="17.30" textLength="102.44" lengthAdjust="spacingAndGlyphs" fill="#ec2a2f" letter-spacing="2.42" filter="url(#hb6_ec2a2f)">DEFUNCIONES</text>
<text x="786.93" y="968.20" font-size="17.30" textLength="71.37" lengthAdjust="spacingAndGlyphs" fill="#ec2a2f" letter-spacing="2.42" filter="url(#hb6_ec2a2f)">RECIENTE</text>
<text x="763.23" y="985.40" font-size="17.30" textLength="119.94" lengthAdjust="spacingAndGlyphs" fill="#ec2a2f" letter-spacing="2.42" filter="url(#hb5_ec2a2f)">CONFIRMACIÓN:</text>
<text x="897.10" y="970.50" font-size="27.33" textLength="10.90" lengthAdjust="spacingAndGlyphs" fill="#ec2a2f" filter="url(#hb8_ec2a2f)">7</text>
<text x="384.13" y="68.90" font-size="16.79" textLength="236.90" lengthAdjust="spacingAndGlyphs" fill="#7a7a7c" letter-spacing="0.67" font-weight="400" font-family="Liberation Serif, serif">CONSTRUIR Y CRECER JUNTOS</text>
<text x="427.93" y="78.10" font-size="7.99" textLength="100.37" lengthAdjust="spacingAndGlyphs" fill="#6e6e70" letter-spacing="0.32">GOBIERNO DEL ESTADO</text>
<text x="531.36" y="78.10" font-size="7.99" textLength="44.93" lengthAdjust="spacingAndGlyphs" fill="#b3323a" letter-spacing="0.32" clip-path="url(#cp_lg4)">2017-2021</text>
<text transform="scale(0.74,1)" x="427.51 453.99 489.59 522.90 553.94 587.25 618.30 647.03 678.29 709.19 743.79 776.87 807.69 838.50" y="1211.75" font-style="italic" font-weight="400" font-size="41.13" fill="url(#hg_h1)" stroke="url(#hg_h1)" stroke-width="1.1" stroke-linejoin="round" filter="url(#hf_h1)">#QUÉDATEENCASA</text>
<text transform="scale(0.74,1)" x="396.86 424.24 453.87 490.37 529.14 561.08 590.72 622.66 650.04 685.99 717.05 752.16 783.52 814.88 848.51 863.86" y="1258.25" font-style="italic" font-weight="400" font-size="41.13" fill="url(#hg_h2)" stroke="url(#hg_h2)" stroke-width="1.1" stroke-linejoin="round" filter="url(#hf_h2)">#TÓMATELOENSERIO</text>
</g>

</svg>
</body></html>
